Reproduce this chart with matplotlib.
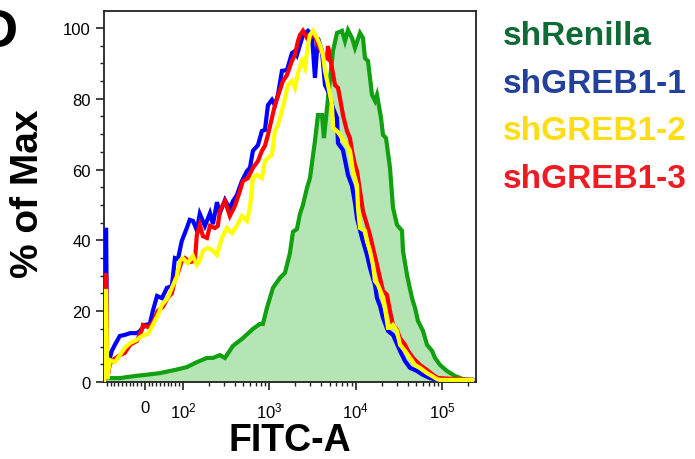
import numpy as np
import matplotlib
matplotlib.use("Agg")
import matplotlib.pyplot as plt
from matplotlib.ticker import FixedLocator, FixedFormatter

plt.rcParams['font.family'] = ['Liberation Sans', 'DejaVu Sans']
plt.rcParams['mathtext.fontset'] = 'custom'
plt.rcParams['mathtext.rm'] = 'Liberation Sans'
plt.rcParams['mathtext.it'] = 'Liberation Sans:italic'
plt.rcParams['mathtext.bf'] = 'Liberation Sans:bold'

# ---- histogram data (FITC-A intensity, % of Max) ----
renilla_x = [-103, -66, -26, 0, 39, 79, 111, 145, 190, 223, 268, 307, 380, 496, 647, 780,
             845, 940, 1104, 1330, 1520, 1737, 1882, 2094, 2269, 2458, 2735, 2962, 3385,
             3667, 4080, 4304, 4663, 5473, 6089, 6958, 7538, 8165, 9085, 9840, 11245,
             12180, 12850, 13920, 15488, 16780, 17700, 19697, 20780, 22500, 25030, 27130,
             30180, 34480, 35420, 39410, 45030, 48790, 52860, 60400, 67200, 76800, 83200,
             95060, 114600, 141800, 175600, 223300]
renilla_y = [1.1, 1.1, 1.7, 2.0, 2.5, 3.4, 4.2, 5.6, 6.8, 6.8, 7.6, 6.8, 10.2, 12.4, 15.0, 16.4,
             16.4, 20.9, 26.6, 29.4, 30.8, 36.4, 42.4, 43.2, 47.5, 50.0, 54.8, 57.6, 68.1,
             75.4, 75.4, 68.9, 77.4, 93.5, 98.6, 99.2, 96.3, 99.4, 97.2, 94.4, 98.6,
             97.2, 91.5, 90.7, 81.1, 79.4, 81.1, 74.6, 69.8, 68.9, 60.5, 49.2,
             44.4, 42.7, 37.0, 30.2, 23.7, 20.9, 17.2, 14.4, 10.5, 8.8, 6.8,
             4.8, 3.1, 1.7, 0.8, 0.6]

greb1_1_x = [-108, -106, -102, -99, -92, -87, -79, -66, -53, -39, -21, -13, 0, 13, 21, 32, 45,
             58, 71, 79, 87, 97, 111, 120, 131, 145, 157, 180, 206, 223, 248, 268, 307, 350,
             380, 422, 483, 552, 598, 647, 740, 823, 892, 966, 1075, 1164, 1261, 1404, 1604,
             1832, 1985, 2094, 2269, 2458, 2808, 3125, 3385, 3570, 3667, 4080, 4420, 4789,
             5473, 6089, 6253, 7145, 8165, 9085, 9840, 10380, 11862, 13555, 14683, 16780,
             17700, 19170, 20780, 23730, 27130, 32690, 37370, 42700, 51460, 60400, 72800,
             87750, 223300]
greb1_1_y = [0, 43.0, 43.0, 1.0, 6.8, 8.8, 10.5, 13.0, 13.3, 13.8, 13.8, 14.4, 16.1, 16.4, 20.1,
             24.3, 23.7, 26.6, 27.1, 35.0, 34.7, 39.8, 43.5, 45.8, 45.5, 42.9, 47.5, 44.1, 47.7,
             44.6, 50.8, 47.7, 51.4, 48.9, 51.1, 52.8, 56.8, 59.6, 60.5, 65.3, 66.9, 70.9, 71.2,
             78.2, 79.7, 78.2, 81.1, 87.9, 88.1, 92.9, 93.5, 92.4, 95.2, 98.0, 99.2, 98.0, 85.9,
             93.5, 97.2, 93.5, 83.9, 82.2, 77.4, 74.6, 67.5, 65.5, 58.5, 55.4, 50.6, 46.3, 40.7,
             35.9, 32.2, 27.4, 23.7, 21.5, 18.1, 14.4, 13.3, 8.8, 5.9, 4.0, 3.1, 2.0, 1.1,
             0.6, 0.6]

greb1_3_x = [-108, -106, -102, -99, -92, -84, -66, -53, -39, -21, -8, -5, 8, 21, 34, 47, 60, 71,
             79, 87, 97, 105.5, 120.5, 137.7, 145, 157, 170.5, 190, 206, 235, 254, 268, 307,
             350, 400, 458, 496, 567, 647, 740, 823, 892, 966, 1075, 1164, 1261, 1441, 1604,
             1832, 1985, 2151, 2269, 2458, 2735, 2962, 3385, 3667, 4191, 4663, 4789, 5328,
             5772, 6253, 6596, 7145, 7950, 8613, 9085, 9840, 10380, 11245, 12180, 13555,
             14683, 15907, 17700, 19170, 20780, 23110, 25030, 27130, 30180, 32690, 37370,
             40480, 46250, 55760, 67200, 78900, 90100, 223300]
greb1_3_y = [0, 30.2, 30.2, 1.0, 5.1, 6.2, 7.6, 8.2, 10.5, 11.6, 14.7, 16.1, 15.5, 16.7, 20.1,
             21.2, 23.7, 25.1, 28.8, 30.8, 34.2, 35.0, 33.9, 34.2, 41.5, 44.4, 41.2, 40.7, 44.1,
             43.5, 44.1, 48.3, 51.1, 46.9, 49.7, 54.0, 56.8, 57.6, 60.5, 62.4, 65.3, 66.7, 69.8,
             74.6, 78.2, 80.8, 85.0, 86.7, 90.7, 92.4, 96.3, 98.0, 99.2, 97.2, 98.0, 97.7, 95.2,
             92.4, 91.5, 94.9, 88.7, 83.9, 83.1, 80.2, 75.4, 70.9, 68.9, 65.3, 61.3, 59.6, 54.0,
             48.3, 44.4, 41.5, 37.9, 33.1, 29.4, 25.7, 24.6, 20.1, 16.1, 14.7, 12.4, 10.5, 8.8,
             6.8, 4.8, 3.4, 2.0, 1.1, 0.6]

greb1_2_x = [-108, -106, -102, -99, -92, -79, -66, -53, -39, -21, -8, 8, 21, 34, 45, 60, 71, 84,
             92, 100, 114, 130.6, 145, 157, 170.5, 195, 217, 248, 283, 323.5, 370, 422, 483,
             552, 598, 647, 720, 823, 892, 966, 1075, 1164, 1261, 1404, 1520, 1647, 1832,
             1985, 2151, 2393, 2593, 2808, 2962, 3209, 3570, 3868, 4191, 4420, 4789, 5328,
             5473, 6089, 6596, 7145, 7950, 8613, 9331, 10380, 10660, 11245, 12850, 13555,
             14683, 15907, 16780, 18180, 20230, 21910, 23730, 25030, 27130, 30180, 32690,
             37370, 42700, 48790, 55760, 67200, 76800, 87750, 95060, 223300]
greb1_2_y = [0, 25.7, 25.7, 0.8, 6.2, 5.6, 7.6, 9.6, 11.0, 11.9, 13.0, 13.6, 16.1, 18.9, 21.8,
             23.7, 26.6, 29.7, 34.2, 35.0, 33.6, 35.6, 33.1, 34.2, 37.0, 37.9, 37.3, 35.9, 40.7,
             43.5, 42.1, 44.1, 46.9, 45.5, 49.2, 57.6, 58.5, 57.6, 62.4, 63.3, 64.1, 70.9, 72.6,
             76.6, 80.2, 83.9, 85.0, 83.1, 87.3, 90.7, 88.7, 95.2, 98.0, 99.2, 97.2, 95.2, 92.4,
             87.9, 83.9, 78.2, 71.8, 70.9, 69.8, 68.4, 66.9, 65.3, 59.6, 55.6, 49.2, 43.5, 42.7,
             39.8, 37.0, 33.1, 28.5, 27.4, 24.6, 20.9, 15.3, 15.3, 16.1, 14.4, 10.5, 8.8, 6.8,
             4.8, 4.0, 2.5, 1.7, 0.8, 0.6, 0.6]

legend_names = ['shRenilla', 'shGREB1-1', 'shGREB1-2', 'shGREB1-3']
legend_colors = ['#0e6b36', '#23409a', '#ffdd15', '#ed1c24']

x_major = [0, 1e2, 1e3, 1e4, 1e5]
x_major_labels = ['0', '$10^{2}$', '$10^{3}$', '$10^{4}$', '$10^{5}$']
y_major = [0, 20, 40, 60, 80, 100]

# ---- figure ----
fig = plt.figure(figsize=(6.95, 4.60), dpi=100)
ax = fig.add_axes([104 / 695, 77 / 460, 372 / 695, 371 / 460])
ax.set_xscale('symlog', linthresh=100, linscale=0.396)

ax.fill_between(renilla_x, renilla_y, 0, color='#b5e4b5', lw=0, zorder=1)
ax.plot(renilla_x, renilla_y, color='#10a010', lw=3, zorder=2, solid_joinstyle='miter')
ax.plot(greb1_1_x, greb1_1_y, color='#0000ff', lw=3, zorder=3, solid_joinstyle='miter')
ax.plot(greb1_3_x, greb1_3_y, color='#ff0000', lw=3, zorder=4, solid_joinstyle='miter')
ax.plot(greb1_2_x, greb1_2_y, color='#ffff00', lw=3, zorder=5, solid_joinstyle='miter')

ax.set_xlim(-108, 2.48e5)
ax.set_ylim(0, 104.8)

ax.xaxis.set_major_locator(FixedLocator(x_major))
ax.xaxis.set_major_formatter(FixedFormatter(x_major_labels))
minor_x = [-v for v in range(10, 101, 10)] + list(range(10, 100, 10))
for dec in (100, 1000, 10000, 100000):
    minor_x += [m * dec for m in range(2, 10) if m * dec < 2.48e5]
ax.xaxis.set_minor_locator(FixedLocator(minor_x))

ax.yaxis.set_major_locator(FixedLocator(y_major))
ax.yaxis.set_minor_locator(FixedLocator(np.arange(0, 105, 5)))

ax.tick_params(which='major', length=6, width=1.2, labelsize=12, colors='#222222',
               labelcolor='black')
ax.tick_params(which='minor', length=3, width=1.0, colors='#222222')
ax.tick_params(axis='x', which='major', pad=7)
for s in ax.spines.values():
    s.set_linewidth(1.3)
    s.set_color('#222222')

ax.set_xlabel('FITC-A', fontsize=27, fontweight='bold', va='baseline')
ax.xaxis.set_label_coords(0.5, -(451 - 383) / 371)
ax.set_ylabel('% of Max', fontsize=28, fontweight='bold', va='center')
ax.yaxis.set_label_coords((28 - 104) / 372, 0.51)

# legend as coloured text
for i, (name, col) in enumerate(zip(legend_names, legend_colors)):
    fig.text(503 / 695, 1 - (45 + 47.7 * i) / 460, name, color=col, fontsize=24,
             fontweight='bold', va='baseline', ha='left')

# panel letter, partly beyond the left edge
fig.text(-22 / 695, 1 - 47 / 460, 'D', fontsize=39, fontweight='bold', va='baseline')

fig.savefig('out.png', dpi=100)
